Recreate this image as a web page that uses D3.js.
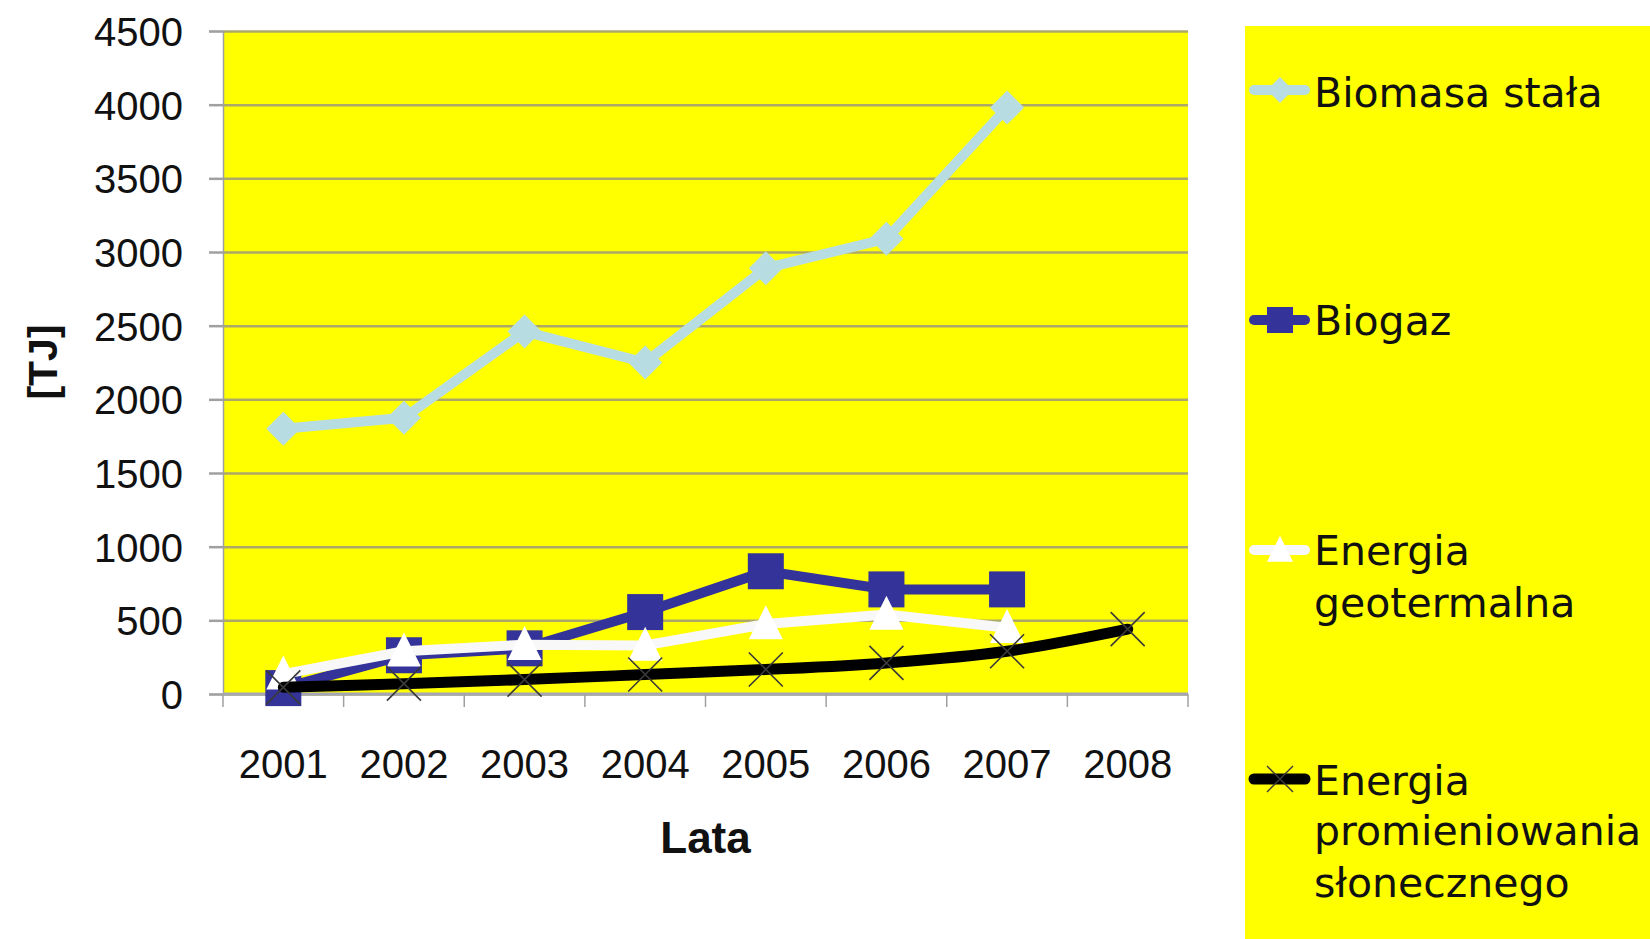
<!DOCTYPE html>
<html>
<head>
<meta charset="utf-8">
<script src="https://cdnjs.cloudflare.com/ajax/libs/d3/7.8.5/d3.min.js"></script>
<style>
  body { margin: 0; background: #fff; }
  svg { display: block; }
  text { font-family: "Century Gothic", "URW Gothic", "Liberation Sans", Arial, sans-serif; fill: #111; }
</style>
</head>
<body>
<svg id="chart" width="1650" height="939"></svg>
<script>
// data
const years = ["2001", "2002", "2003", "2004", "2005", "2006", "2007", "2008"];
const biomasa = [1800, 1875, 2460, 2250, 2890, 3090, 3980, null];
const biogaz = [40, 263, 310, 556, 833, 710, 710, null];
const geotermalna = [135, 290, 335, 330, 475, 540, 450, null];
const slonce = [45, 70, 98, 132, 166, 211, 290, 440];
const yTicks = [0, 500, 1000, 1500, 2000, 2500, 3000, 3500, 4000, 4500];
const legendLabels = [
    ["Biomasa stała"],
    ["Biogaz"],
    ["Energia", "geotermalna"],
    ["Energia", "promieniowania", "słonecznego"]
];

const svg = d3.select("#chart");
const plot = { left: 223, right: 1188, top: 31, bottom: 694 };

const x = d3.scaleBand().domain(years).range([plot.left, plot.right]);
const y = d3.scaleLinear().domain([0, 4500]).range([plot.bottom, plot.top]);
const cx = d => x(d) + x.bandwidth() / 2;

// plot background
svg.append("rect")
    .attr("x", plot.left).attr("y", plot.top)
    .attr("width", plot.right - plot.left).attr("height", plot.bottom - plot.top)
    .attr("fill", "#ffff00");

// gridlines
svg.append("g")
    .attr("transform", "translate(" + plot.left + ",0)")
    .call(d3.axisLeft(y).tickValues(yTicks).tickSize(-(plot.right - plot.left)).tickFormat(""))
    .call(g => g.select(".domain").remove())
    .selectAll("line").attr("stroke", "#aca86a").attr("stroke-width", 2.5);

// y axis
let yAxis = svg.append("g")
    .attr("transform", "translate(" + plot.left + ",0)")
    .call(d3.axisLeft(y).tickValues(yTicks).tickFormat(d3.format("d")).tickSize(14).tickPadding(26));
yAxis.select(".domain").attr("stroke", "#a0a0a0").attr("stroke-width", 1.5);
yAxis.selectAll(".tick line").attr("stroke", "#a0a0a0").attr("stroke-width", 2.5);
yAxis.selectAll(".tick text")
    .attr("font-size", 40)
    .attr("dy", "0.36em")
    .attr("fill", "#1a1a1a")
    .style("font-family", "'Century Gothic', 'Liberation Sans', sans-serif");

// x axis line, ticks between categories
let boundaries = years.map(d => x(d)).concat([x.range()[1]]);
svg.append("line")
    .attr("x1", plot.left).attr("x2", plot.right)
    .attr("y1", plot.bottom).attr("y2", plot.bottom)
    .attr("stroke", "#a4a6b8").attr("stroke-width", 3);
svg.append("g").selectAll("line")
    .data(boundaries).enter().append("line")
    .attr("x1", d => d).attr("x2", d => d)
    .attr("y1", plot.bottom).attr("y2", plot.bottom + 13)
    .attr("stroke", "#a0a0a0").attr("stroke-width", 1.5);
svg.append("g").selectAll("text")
    .data(years).enter().append("text")
    .attr("x", d => cx(d)).attr("y", 778)
    .attr("text-anchor", "middle")
    .attr("font-size", 40)
    .text(d => d);

// axis titles
svg.append("text")
    .attr("transform", "translate(57,362) rotate(-90)")
    .attr("text-anchor", "middle")
    .attr("font-size", 41).attr("font-weight", "bold")
    .text("[TJ]");
svg.append("text")
    .attr("x", (plot.left + plot.right) / 2).attr("y", 853)
    .attr("text-anchor", "middle")
    .attr("font-size", 44).attr("font-weight", "bold")
    .text("Lata");

// marker shapes
function diamond(g, s) {
    g.append("path").attr("d", "M0," + (-s) + "L" + s + ",0L0," + s + "L" + (-s) + ",0Z");
}
function square(g, s) {
    g.append("rect").attr("x", -s).attr("y", -s).attr("width", 2 * s).attr("height", 2 * s);
}
function triangle(g, s) {
    g.append("path").attr("d", "M0," + (-s * 1.1) + "L" + s + "," + (s * 0.9) + "L" + (-s) + "," + (s * 0.9) + "Z");
}
function cross(g, s) {
    g.append("path").attr("d", "M" + (-s) + "," + (-s) + "L" + s + "," + s + "M" + s + "," + (-s) + "L" + (-s) + "," + s)
        .attr("fill", "none");
}

const series = [
    { values: biomasa, color: "#b7dde3", width: 10, curve: d3.curveLinear, marker: diamond, size: 17, mfill: "#b7dde3", mstroke: "none" },
    { values: biogaz, color: "#333399", width: 10, curve: d3.curveLinear, marker: square, size: 18, mfill: "#333399", mstroke: "none" },
    { values: geotermalna, color: "#f8f8f8", width: 10, curve: d3.curveLinear, marker: triangle, size: 17, mfill: "#ffffff", mstroke: "none" },
    { values: slonce, color: "#000000", width: 11, curve: d3.curveCatmullRom, marker: cross, size: 17, mfill: "none", mstroke: "#3a3a3a" }
];

series.forEach(function(s) {
    let pts = years.map((yr, i) => ({ yr: yr, v: s.values[i] })).filter(p => p.v !== null);
    let line = d3.line().x(p => cx(p.yr)).y(p => y(p.v)).curve(s.curve);
    svg.append("path")
        .attr("d", line(pts))
        .attr("fill", "none")
        .attr("stroke", s.color)
        .attr("stroke-width", s.width)
        .attr("stroke-linejoin", "round")
        .attr("stroke-linecap", "round");
    svg.append("g").selectAll("g")
        .data(pts).enter().append("g")
        .attr("transform", p => "translate(" + cx(p.yr) + "," + y(p.v) + ")")
        .each(function() {
            let g = d3.select(this);
            s.marker(g, s.size);
            g.selectAll("path, rect")
                .attr("fill", s.mfill)
                .attr("stroke", s.mstroke)
                .attr("stroke-width", 1.6);
        });
});

// legend
svg.append("rect")
    .attr("x", 1245).attr("y", 26)
    .attr("width", 420).attr("height", 930)
    .attr("fill", "#ffff00");

const legendY = [90, 320, 550, 779];
const legendBase = [[107], [335], [565, 617], [795, 845, 897]];
series.forEach(function(s, i) {
    let g = svg.append("g").attr("transform", "translate(0," + legendY[i] + ")");
    g.append("line")
        .attr("x1", 1254).attr("x2", 1305)
        .attr("stroke", s.color).attr("stroke-width", s.width)
        .attr("stroke-linecap", "round");
    let m = g.append("g").attr("transform", "translate(1280,0)");
    s.marker(m, 13);
    m.selectAll("path, rect")
        .attr("fill", s.mfill)
        .attr("stroke", s.mstroke)
        .attr("stroke-width", 1.4);
    legendLabels[i].forEach(function(txt, j) {
        svg.append("text")
            .attr("x", 1314).attr("y", legendBase[i][j])
            .attr("font-size", 41)
            .style("font-family", "'Century Gothic', 'DejaVu Sans', sans-serif")
            .text(txt);
    });
});
</script>
</body>
</html>
